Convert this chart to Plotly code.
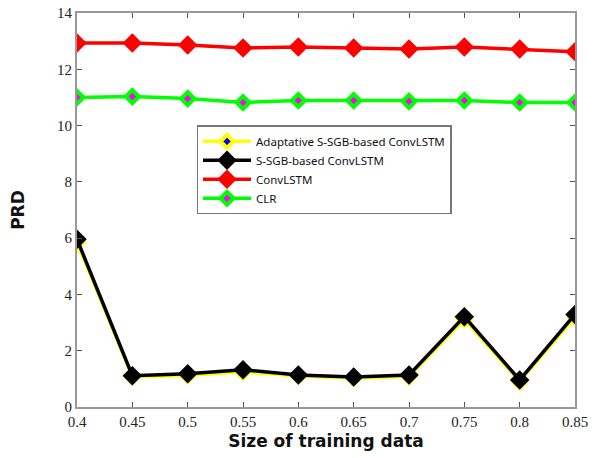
import plotly.graph_objects as go

x_vals = [0.4, 0.45, 0.5, 0.55, 0.6, 0.65, 0.7, 0.75, 0.8, 0.85]
adaptive = [5.85, 1.08, 1.12, 1.25, 1.10, 1.03, 1.08, 3.12, 0.90, 3.20]
ssgb = [5.96, 1.11, 1.18, 1.32, 1.14, 1.07, 1.14, 3.21, 0.96, 3.29]
convlstm = [12.93, 12.93, 12.86, 12.76, 12.79, 12.76, 12.72, 12.79, 12.72, 12.62]
clr = [11.0, 11.03, 10.96, 10.82, 10.89, 10.89, 10.86, 10.89, 10.82, 10.82]
x_ticks = [0.4, 0.45, 0.5, 0.55, 0.6, 0.65, 0.7, 0.75, 0.8, 0.85]
x_tick_text = ["0.4", "0.45", "0.5", "0.55", "0.6", "0.65", "0.7", "0.75", "0.8", "0.85"]
y_ticks = [0, 2, 4, 6, 8, 10, 12, 14]

fig = go.Figure()
series = [
    ("Adaptative S-SGB-based ConvLSTM", adaptive, "#ffff00", "#0000ff"),
    ("S-SGB-based ConvLSTM", ssgb, "#000000", "#000000"),
    ("ConvLSTM", convlstm, "#ff0000", "#ff0000"),
    ("CLR", clr, "#00ff00", "#ff00ff"),
]
for name, vals, lc, mc in series:
    fig.add_trace(go.Scatter(
        x=x_vals, y=vals, name=name, mode="lines+markers",
        line=dict(color=lc, width=3.5),
        marker=dict(symbol="diamond", size=15 if mc == lc else 10, color=mc,
                    line=dict(color=lc, width=0 if mc == lc else 4)),
    ))

axis_common = dict(showline=True, linecolor="#999999", linewidth=2, mirror="ticks",
                   ticks="inside", ticklen=5, tickcolor="#555555", showgrid=False,
                   zeroline=False, automargin=False,
                   tickfont=dict(family="Liberation Serif", size=15, color="#222222"))
fig.update_xaxes(range=[0.4, 0.85], tickvals=x_ticks, ticktext=x_tick_text,
                 title=dict(text="<b>Size of training data</b>",
                            font=dict(family="DejaVu Sans", size=17, color="#111111"), standoff=6),
                 **axis_common)
fig.update_yaxes(range=[0, 14], tickvals=y_ticks,
                 title=dict(text="<b>PRD</b>",
                            font=dict(family="DejaVu Sans", size=17, color="#111111"), standoff=28),
                 **axis_common)
fig.update_layout(
    width=600, height=458,
    margin=dict(l=77, r=25, t=13, b=51, autoexpand=False),
    plot_bgcolor="white", paper_bgcolor="white",
    legend=dict(x=0.24, y=0.715, xanchor="left", yanchor="top",
                bgcolor="white", bordercolor="#777777", borderwidth=1.5,
                font=dict(family="Noto Sans", size=11.5, color="#111111"),
                tracegroupgap=0, itemwidth=48),
)
fig.write_html("out.html", config={"displayModeBar": False},
               post_script="document.body.style.margin='0';")
